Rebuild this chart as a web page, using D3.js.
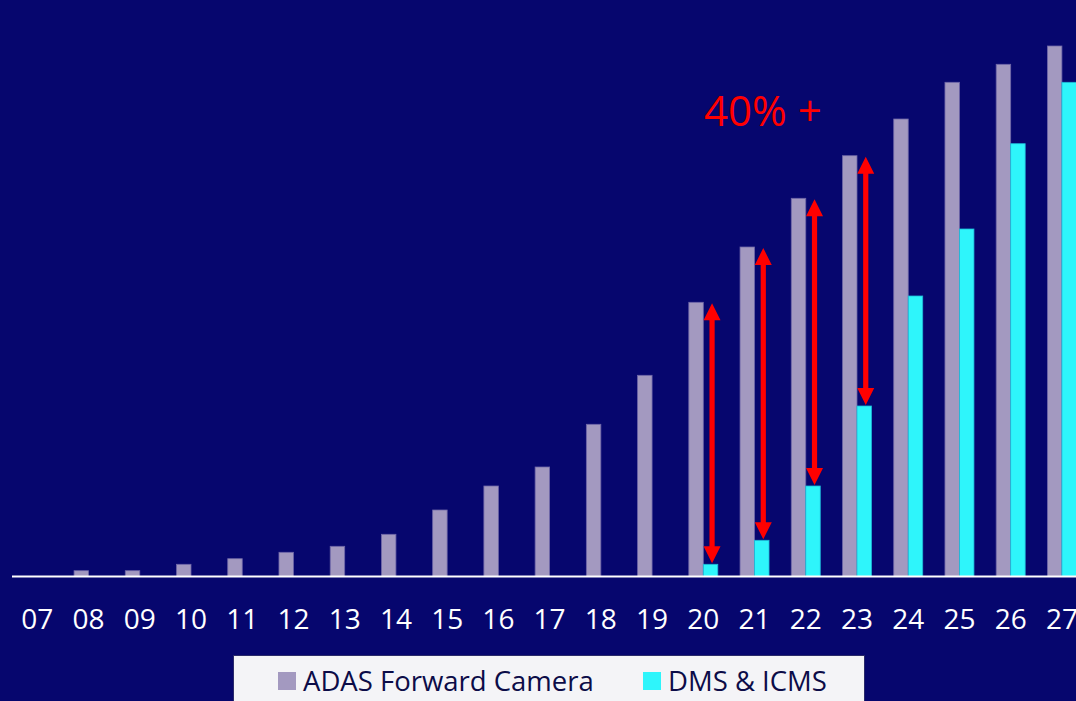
<!DOCTYPE html>
<html>
<head>
<meta charset="utf-8">
<script src="https://cdn.jsdelivr.net/npm/d3@7/dist/d3.min.js"></script>
<style>
  html, body { margin: 0; padding: 0; background: #06066e; overflow: hidden; }
  svg { display: block; }
</style>
</head>
<body>
<svg id="chart" width="1076" height="701"></svg>
<script>
// Model years shown along the axis
const years = ["07","08","09","10","11","12","13","14","15","16","17","18","19","20","21","22","23","24","25","26","27"];

// Relative shipment volume per year (same units for both series)
const adasForwardCamera = [0, 5.8, 5.8, 12.2, 17.8, 24.2, 30.2, 42.2, 66.5, 90.5, 109.5, 152.2, 201.2, 274.2, 329.5, 378.2, 420.8, 457.5, 494.2, 512.2, 530.5];
const dmsIcms           = [0, 0, 0, 0, 0, 0, 0, 0, 0, 0, 0, 0, 0, 12.2, 36.2, 90.5, 170.5, 280.5, 347.5, 432.8, 494.2];

// Years whose gap between the two series is marked with a double arrow
const gapYears = ["20", "21", "22", "23"];

const seriesNames = ["ADAS Forward Camera", "DMS & ICMS"];
const seriesColors = ["#a399c0", "#2ef5fb"];

const svg = d3.select("#chart");
const W = 1076, H = 701;

svg.append("rect").attr("width", W).attr("height", H).attr("fill", "#06066e");

const baseY = 576.5;
const x = d3.scaleBand()
  .domain(years)
  .range([11.7, 11.7 + 21 * 51.23])
  .paddingInner(0.434)
  .paddingOuter(0.217);

const xs = d3.scaleBand().domain(seriesNames).range([0, x.bandwidth()]);

const y = d3.scaleLinear().domain([0, 530.5]).range([baseY, 46]);

const rows = years.map((yr, i) => ({ year: yr, values: [adasForwardCamera[i], dmsIcms[i]] }));

// Bars
const groups = svg.append("g").selectAll("g")
  .data(rows).join("g")
  .attr("transform", d => `translate(${x(d.year)},0)`);

groups.selectAll("rect")
  .data(d => d.values.map((v, k) => ({ v, k })).filter(e => e.v > 0))
  .join("rect")
  .attr("x", e => xs(seriesNames[e.k]))
  .attr("y", e => y(e.v))
  .attr("width", xs.bandwidth())
  .attr("height", e => baseY - y(e.v))
  .attr("fill", e => seriesColors[e.k])
  .attr("stroke", e => e.k === 0 ? "#6e66a8" : "#1fb8d8")
  .attr("stroke-width", 0.8);

// Baseline
svg.append("line")
  .attr("x1", 12).attr("x2", W)
  .attr("y1", baseY).attr("y2", baseY)
  .attr("stroke", "#ffffff").attr("stroke-width", 2);

// Year labels (the last one runs off the right edge)
const xAxis = svg.append("g")
  .attr("transform", `translate(0,${baseY})`)
  .call(d3.axisBottom(x).tickSize(0).tickPadding(0));
xAxis.select(".domain").remove();
xAxis.selectAll("text")
  .attr("y", 52)
  .attr("dy", 0)
  .attr("fill", "#ffffff")
  .style("font-family", "'Open Sans', sans-serif")
  .style("font-size", "28px");

// Double-headed arrows showing the gap between the series
const arrowG = svg.append("g");
gapYears.forEach(yr => {
  const i = years.indexOf(yr);
  const cx = x(yr) + xs(seriesNames[1]) + xs.bandwidth() / 2 + 1.5;
  const yTop = y(adasForwardCamera[i]) + 1;
  const yBot = y(dmsIcms[i]) - 1;
  const hw = 8.5, hl = 17, sw = 2.6;
  const p = d3.path();
  p.moveTo(cx, yTop);
  p.lineTo(cx + hw, yTop + hl);
  p.lineTo(cx + sw, yTop + hl);
  p.lineTo(cx + sw, yBot - hl);
  p.lineTo(cx + hw, yBot - hl);
  p.lineTo(cx, yBot);
  p.lineTo(cx - hw, yBot - hl);
  p.lineTo(cx - sw, yBot - hl);
  p.lineTo(cx - sw, yTop + hl);
  p.lineTo(cx - hw, yTop + hl);
  p.closePath();
  arrowG.append("path").attr("d", p.toString()).attr("fill", "#ff0000");
});

// Growth annotation
svg.append("text")
  .attr("x", 704).attr("y", 126)
  .attr("fill", "#ff0000")
  .style("font-family", "'Open Sans', sans-serif")
  .style("font-size", "42px")
  .text("40% +");

// Legend
const legend = svg.append("g");
legend.append("rect")
  .attr("x", 233.5).attr("y", 655.5)
  .attr("width", 631).attr("height", 60)
  .attr("fill", "#f4f4f7")
  .attr("stroke", "#2a2a6a").attr("stroke-width", 1);

const legendX = [278, 643];
const legendTextX = [303, 668];
seriesNames.forEach((name, k) => {
  legend.append("rect")
    .attr("x", legendX[k]).attr("y", 672)
    .attr("width", 18).attr("height", 18)
    .attr("fill", seriesColors[k]);
  legend.append("text")
    .attr("x", legendTextX[k]).attr("y", 691)
    .attr("fill", "#0c0c48")
    .style("font-family", "'Open Sans', sans-serif")
    .style("font-size", "27.5px")
    .text(name);
});
</script>
</body>
</html>
